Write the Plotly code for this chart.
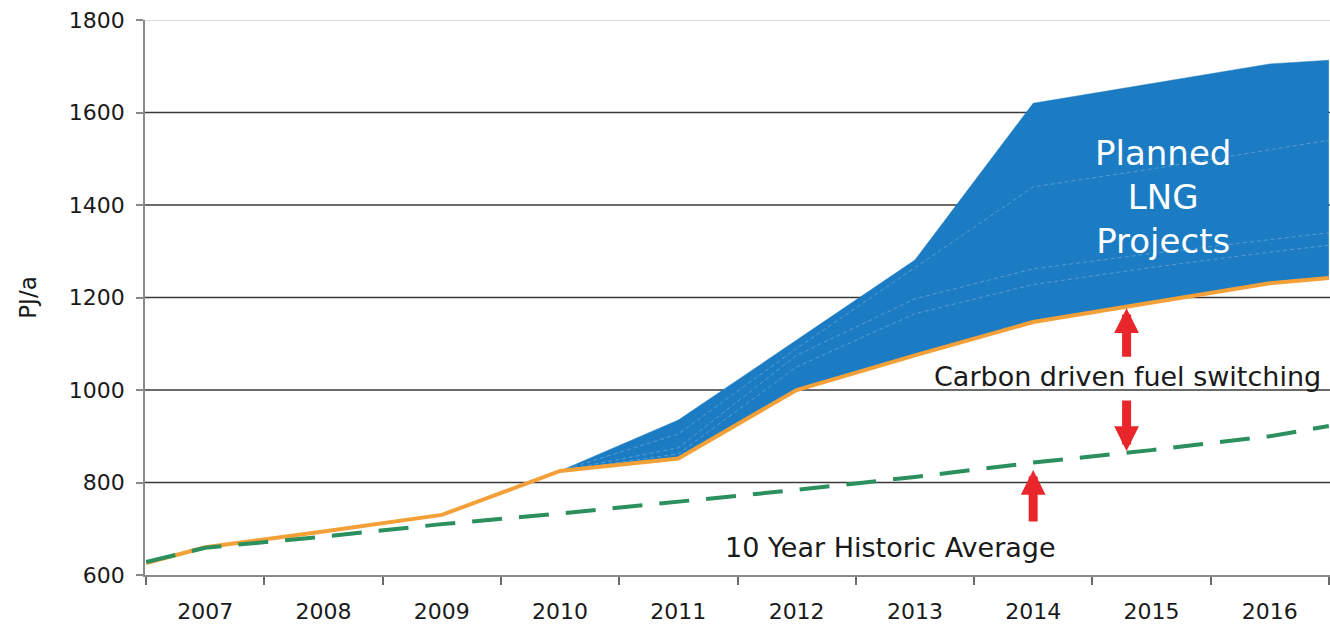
import plotly.graph_objects as go

# ---- data ----
years_line = [2006.5, 2007, 2008, 2009, 2010, 2011, 2012, 2013, 2014, 2015, 2016, 2016.5]
forecast = [626, 660, 694, 730, 825, 852, 1000, 1075, 1147, 1190, 1231, 1242]
hist_avg = [628, 659, 683, 710, 733, 758, 784, 812, 843, 870, 900, 922]

years_lng = [2010, 2011, 2012, 2013, 2014, 2015, 2016, 2016.5]
lng_base = [825, 852, 1000, 1075, 1147, 1190, 1231, 1242]
lng_top = [825, 935, 1108, 1281, 1620, 1662, 1705, 1713]
lng_mid_a = [825, 905, 1090, 1265, 1439, 1478, 1519, 1540]
lng_mid_b = [825, 875, 1075, 1197, 1262, 1295, 1325, 1340]
lng_mid_c = [825, 862, 1050, 1165, 1228, 1265, 1298, 1313]

year_labels = [2007, 2008, 2009, 2010, 2011, 2012, 2013, 2014, 2015, 2016]
y_ticks = [600, 800, 1000, 1200, 1400, 1600, 1800]

FONT = "DejaVu Sans"
BLUE = "#1b7cc3"
ORANGE = "#f4a038"
GREEN = "#2b8f5e"
RED = "#e8262b"
TXT = "#1a1a1a"

fig = go.Figure()

fig.add_trace(go.Scatter(x=years_lng, y=lng_base, mode="lines",
                         line=dict(width=0, color=BLUE), showlegend=False,
                         hoverinfo="skip"))
fig.add_trace(go.Scatter(x=years_lng, y=lng_top, mode="lines", fill="tonexty",
                         fillcolor=BLUE, line=dict(width=0.5, color=BLUE),
                         showlegend=False))
for mid in (lng_mid_a, lng_mid_b, lng_mid_c):
    fig.add_trace(go.Scatter(x=years_lng, y=mid, mode="lines",
                             line=dict(width=1, color="rgba(255,255,255,0.25)",
                                       dash="4px,3px"),
                             showlegend=False))

fig.add_trace(go.Scatter(x=years_line, y=forecast, mode="lines",
                         line=dict(width=4, color=ORANGE), showlegend=False))
fig.add_trace(go.Scatter(x=years_line, y=hist_avg, mode="lines",
                         line=dict(width=4, color=GREEN, dash="30px,17px"),
                         showlegend=False))

# gridlines as shapes below traces
shapes = []
for v in y_ticks[1:]:
    shapes.append(dict(type="line", xref="paper", x0=0, x1=1, yref="y", y0=v, y1=v,
                       layer="below",
                       line=dict(color="#dcdcdc" if v == y_ticks[-1] else "#3a3a3a",
                                 width=2 if v == y_ticks[-1] else 1.3)))

arrow_style = dict(xref="x", yref="y", showarrow=True, arrowhead=2,
                   arrowwidth=9, arrowsize=0.55, arrowcolor=RED, text="", ax=0)

annotations = [
    dict(x=2015.1, y=1417, xref="x", yref="y", showarrow=False,
         text="Planned<br>LNG<br>Projects",
         font=dict(family=FONT, size=34, color="white"), align="center"),
    dict(x=2014.8, y=1030, xref="x", yref="y", showarrow=False,
         text="Carbon driven fuel switching",
         font=dict(family=FONT, size=27, color=TXT)),
    dict(x=2012.79, y=660, xref="x", yref="y", showarrow=False,
         text="10 Year Historic Average",
         font=dict(family=FONT, size=27, color=TXT)),
    dict(arrow_style, x=2014.79, y=1177, ay=50),
    dict(arrow_style, x=2014.79, y=868, ay=-52),
    dict(arrow_style, x=2014.0, y=827, ay=53),
]

fig.update_layout(
    width=1330, height=629,
    margin=dict(l=145, r=0, t=20, b=54),
    paper_bgcolor="white", plot_bgcolor="white",
    font=dict(family=FONT, size=22, color=TXT),
    shapes=shapes, annotations=annotations,
    xaxis=dict(range=[2006.49, 2016.51], tickvals=year_labels,
               ticktext=[str(y) for y in year_labels], ticks="",
               showgrid=False, zeroline=False, showline=True,
               linecolor="#8a8a8a", linewidth=1.5, ticklabelstandoff=16,
               tickfont=dict(family=FONT, size=22, color=TXT),
               minor=dict(tickvals=[y - 0.5 for y in year_labels] + [2016.5],
                          ticks="outside", ticklen=8, tickcolor="#6a6a6a",
                          tickwidth=1.5, showgrid=False)),
    yaxis=dict(range=[600, 1800], tickvals=y_ticks, ticks="outside", ticklen=7,
               tickcolor="#8a8a8a", tickwidth=1.5, showgrid=False, zeroline=False,
               showline=True, linecolor="#8a8a8a", linewidth=1.5,
               ticklabelstandoff=7,
               tickfont=dict(family=FONT, size=22, color=TXT),
               title=dict(text="PJ/a", font=dict(family=FONT, size=23, color=TXT),
                          standoff=26)),
)

fig.write_html("out.html")
